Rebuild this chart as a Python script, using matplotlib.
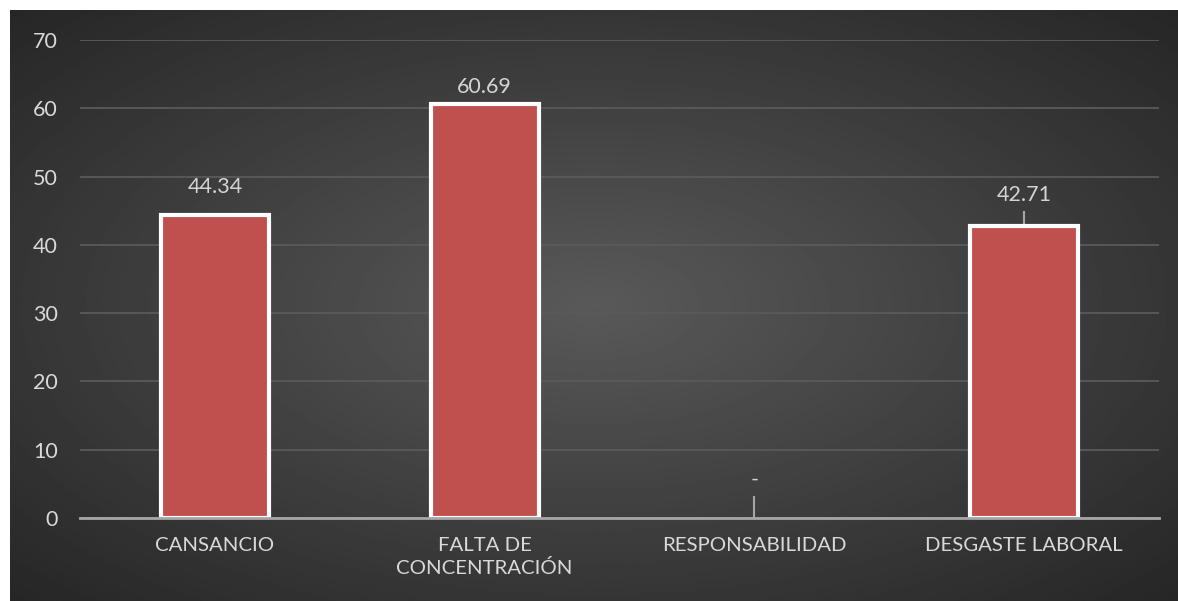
import numpy as np
import matplotlib
matplotlib.use('Agg')
import matplotlib.pyplot as plt

categorias = ['CANSANCIO', 'FALTA DE\nCONCENTRACIÓN', 'RESPONSABILIDAD', 'DESGASTE LABORAL']
valores = [44.34, 60.69, 0, 42.71]
etiquetas = ['44.34', '60.69', '-', '42.71']
yticks = [0, 10, 20, 30, 40, 50, 60, 70]

plt.rcParams['font.family'] = ['Lato', 'DejaVu Sans']

fig = plt.figure(figsize=(11.78, 6.01), dpi=100)
fig.patch.set_facecolor('white')

# fondo con degradado radial
bg = fig.add_axes([10 / 1178, 0, 1 - 10 / 1178, 1 - 10 / 601])
yy, xx = np.mgrid[-1:1:300j, -1:1:600j]
r = np.sqrt(xx ** 2 + yy ** 2) / np.sqrt(2)
img = 0.35 - 0.20 * r
bg.imshow(img, cmap='gray', vmin=0, vmax=1, aspect='auto', extent=[0, 1, 0, 1])
bg.axis('off')

ax = fig.add_axes([80 / 1178, 83 / 601, 1079 / 1178, 478 / 601])
ax.patch.set_alpha(0)
x = np.arange(len(categorias))
bordes = [3 if v > 0 else 0 for v in valores]
ax.bar(x, valores, width=0.4, color='#c0504d', edgecolor='white', linewidth=bordes, zorder=3)

ax.set_xlim(-0.5, 3.5)
ax.set_ylim(0, 70)
ax.set_yticks(yticks)
ax.set_xticks(x)
ax.set_xticklabels(categorias, linespacing=1.3)
ax.grid(axis='y', color='#5a5a5a', linewidth=1.3, zorder=0)
ax.tick_params(axis='both', length=0, labelsize=15.5, colors='#d9d9d9')
ax.tick_params(axis='x', labelsize=14.7, pad=14)
ax.tick_params(axis='y', pad=16)
for s in ['top', 'right', 'left']:
    ax.spines[s].set_visible(False)
ax.spines['bottom'].set_color('#a6a6a6')
ax.spines['bottom'].set_linewidth(2)
ax.spines['bottom'].set_zorder(4)

# etiquetas de datos
pos_etq = [48.5, 63.1, 5.6, 47.3]
for i, (v, t, p) in enumerate(zip(valores, etiquetas, pos_etq)):
    ax.text(i, p, t, ha='center', va='center', fontsize=15.5, color='#d4d4d4', zorder=5)
ax.plot([2, 2], [0, 3.1], color='#a6a6a6', linewidth=1.5, zorder=4)
ax.plot([3, 3], [42.71, 44.8], color='#a6a6a6', linewidth=1.5, zorder=2)

fig.savefig('out.png', dpi=100)
